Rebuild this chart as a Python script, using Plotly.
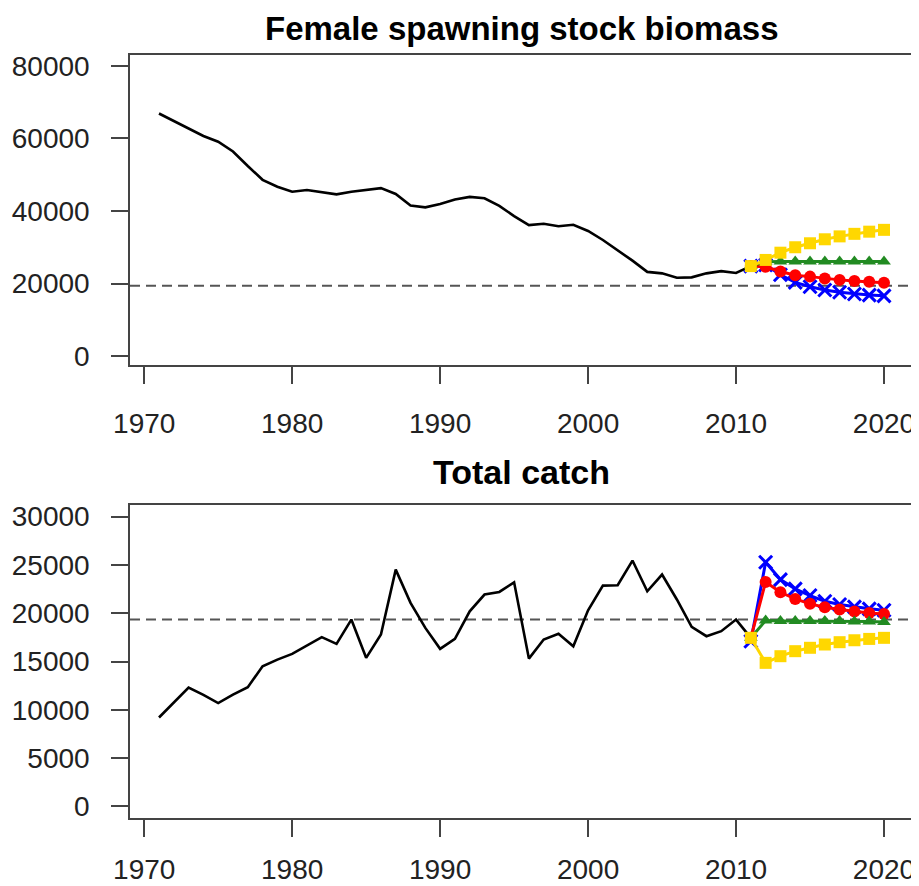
import plotly.graph_objects as go

years_hist = list(range(1971, 2012))
years_proj = list(range(2011, 2021))

ssb_hist = [66900, 64800, 62700, 60700, 59100, 56400, 52400, 48600, 46700, 45300,
            45800, 45300, 44600, 45300, 45800, 46300, 44700, 41500, 41000, 41900,
            43200, 43900, 43500, 41400, 38600, 36100, 36500, 35800, 36200, 34500,
            32000, 29200, 26300, 23200, 22800, 21600, 21700, 22800, 23400, 22900,
            24800]
catch_hist = [9200, 10700, 12300, 11550, 10700, 11580, 12340, 14500, 15200, 15790,
              16650, 17520, 16830, 19340, 15380, 17800, 24510, 21070, 18480, 16310,
              17350, 20200, 21930, 22200, 23200, 15300, 17280, 17870, 16580, 20310,
              22860, 22890, 25450, 22270, 24000, 21420, 18580, 17620, 18140, 19340,
              17450]

ssb_blue = [24800, 25100, 22400, 20300, 19100, 18200, 17600, 17100, 16800, 16600]
ssb_red = [24800, 24600, 23300, 22300, 21900, 21400, 21000, 20700, 20500, 20200]
ssb_green = [24800, 26000, 26100, 26100, 26100, 26100, 26100, 26100, 26100, 26100]
ssb_yellow = [24800, 26500, 28500, 30000, 31100, 32200, 33000, 33700, 34300, 34800]

catch_blue = [17100, 25270, 23480, 22520, 21830, 21240, 20900, 20650, 20450, 20310]
catch_red = [17450, 23240, 22170, 21480, 20970, 20620, 20380, 20170, 20030, 19930]
catch_green = [17450, 19240, 19200, 19200, 19200, 19200, 19200, 19150, 19150, 19100]
catch_yellow = [17450, 14860, 15550, 16070, 16420, 16760, 17000, 17200, 17340, 17450]

ref_level = 19350

x_ticks = [1970, 1980, 1990, 2000, 2010, 2020]
ssb_ticks = [0, 20000, 40000, 60000, 80000]
catch_ticks = [0, 5000, 10000, 15000, 20000, 25000, 30000]

titles = ["Female spawning stock biomass", "Total catch"]

FONT = "Liberation Sans, Arial, sans-serif"
FRAME = "#444444"

fig = go.Figure()

def add_panel(fig, hist, blue, red, green, yellow, xa, ya):
    fig.add_trace(go.Scatter(x=years_hist, y=hist, mode="lines",
                             line=dict(color="black", width=2.6),
                             xaxis=xa, yaxis=ya, showlegend=False))
    fig.add_trace(go.Scatter(x=years_proj, y=blue, mode="lines+markers",
                             line=dict(color="#0000FF", width=3),
                             marker=dict(symbol="x-thin", size=13,
                                         line=dict(color="#0000FF", width=3)),
                             xaxis=xa, yaxis=ya, showlegend=False))
    fig.add_trace(go.Scatter(x=years_proj, y=red, mode="lines+markers",
                             line=dict(color="#FF0000", width=3),
                             marker=dict(symbol="circle", size=12, color="#FF0000"),
                             xaxis=xa, yaxis=ya, showlegend=False))
    fig.add_trace(go.Scatter(x=years_proj, y=green, mode="lines+markers",
                             line=dict(color="#228B22", width=3),
                             marker=dict(symbol="triangle-up", size=12, color="#228B22"),
                             xaxis=xa, yaxis=ya, showlegend=False))
    fig.add_trace(go.Scatter(x=years_proj, y=yellow, mode="lines+markers",
                             line=dict(color="#FFD700", width=3),
                             marker=dict(symbol="square", size=12, color="#FFD700"),
                             xaxis=xa, yaxis=ya, showlegend=False))

add_panel(fig, ssb_hist, ssb_blue, ssb_red, ssb_green, ssb_yellow, "x", "y")
add_panel(fig, catch_hist, catch_blue, catch_red, catch_green, catch_yellow, "x2", "y2")

for yref, xref in (("y", "x"), ("y2", "x2")):
    fig.add_shape(type="line", xref=f"{xref} domain", yref=yref,
                  x0=0, x1=1, y0=ref_level, y1=ref_level,
                  line=dict(color="#555555", width=2, dash="10px,6px"),
                  layer="below")

axis_common = dict(showline=True, mirror=True, linecolor=FRAME, linewidth=1.5,
                   ticks="outside", ticklen=17, tickwidth=1.5, tickcolor=FRAME,
                   showgrid=False, zeroline=False, automargin=False,
                   tickfont=dict(family=FONT, size=28, color="#222222"))

def labels(vals):
    return [str(v) for v in vals]

# the page body adds an 8px margin, so the figure is sized to fit inside it
fig.update_layout(
    width=911, height=878,
    margin=dict(l=122, r=6, t=47, b=68),
    paper_bgcolor="white", plot_bgcolor="white",
    xaxis=dict(domain=[0, 1], anchor="y", range=[1969.04, 2021.96],
               tickvals=x_ticks, ticktext=labels(x_ticks), ticklabelstandoff=16,
               **axis_common),
    yaxis=dict(domain=[0.5937, 1], anchor="x", range=[-2480, 83030],
               tickvals=ssb_ticks, ticktext=labels(ssb_ticks), ticklabelstandoff=16,
               **axis_common),
    xaxis2=dict(domain=[0, 1], anchor="y2", range=[1969.04, 2021.96],
                tickvals=x_ticks, ticktext=labels(x_ticks), ticklabelstandoff=9,
                **axis_common),
    yaxis2=dict(domain=[0, 0.4102], anchor="x2", range=[-1200, 31200],
                tickvals=catch_ticks, ticktext=labels(catch_ticks), ticklabelstandoff=16,
                **axis_common),
    annotations=[
        dict(text=f"<b>{titles[0]}</b>", x=0.5, y=1.0610, xref="paper", yref="paper",
             xanchor="center", yanchor="top", showarrow=False,
             font=dict(family=FONT, size=33, color="black")),
        dict(text=f"<b>{titles[1]}</b>", x=0.5, y=0.4535, xref="paper", yref="paper",
             xanchor="center", yanchor="middle", showarrow=False,
             font=dict(family=FONT, size=34, color="black")),
    ],
)

fig.write_html("out.html")
